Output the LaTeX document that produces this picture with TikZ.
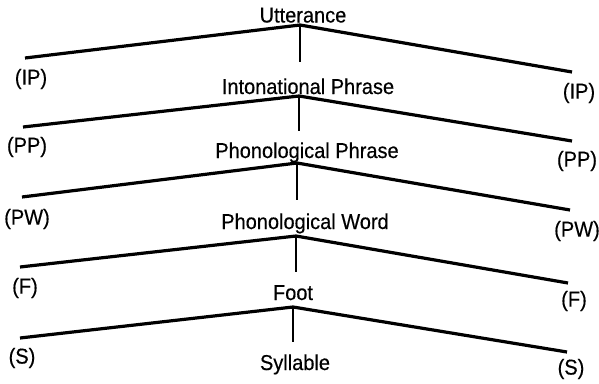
\documentclass[tikz,border=0pt]{standalone}
\usepackage{fontspec}
\setmainfont[FakeStretch=0.93, FakeBold=0.4]{Liberation Sans}

\begin{document}
\begin{tikzpicture}[x=1pt, y=-1pt,
    level_label/.style={font=\fontsize{21.5}{25}\selectfont, inner sep=0pt, anchor=base},
    side_label/.style={font=\fontsize{21.5}{25}\selectfont, inner sep=0pt},
    branch/.style={line width=3.2pt, line join=round},
    stem/.style={line width=2.8pt}
]
    \useasboundingbox (0,0) rectangle (599,383);

    % Utterance level
    \node[level_label] (utt) at (303,22.5) {Utterance};
    \coordinate (utt_top) at (300,25);
    \coordinate (utt_l) at (25,58);
    \coordinate (utt_r) at (572,72);
    \coordinate (utt_stem) at (300,62);
    \draw[branch] (utt_l) -- (utt_top) -- (utt_r);
    \draw[stem] (utt_top) -- (utt_stem);
    \node[side_label] (ip_l) at (31,79) {(IP)};
    \node[side_label] (ip_r) at (579,93) {(IP)};

    % Intonational Phrase level
    \node[level_label] (ip) at (308,94) {Intonational Phrase};
    \coordinate (ip_top) at (299,96);
    \coordinate (ip_le) at (23,127);
    \coordinate (ip_re) at (572,141);
    \coordinate (ip_stem) at (299,131);
    \draw[branch] (ip_le) -- (ip_top) -- (ip_re);
    \draw[stem] (ip_top) -- (ip_stem);
    \node[side_label] (pp_l) at (27,147) {(PP)};
    \node[side_label] (pp_r) at (577,161) {(PP)};

    % Phonological Phrase level
    \node[level_label] (pp) at (307,158) {Phonological Phrase};
    \coordinate (pp_top) at (297,163);
    \coordinate (pp_le) at (22,197);
    \coordinate (pp_re) at (570,210);
    \coordinate (pp_stem) at (297,200);
    \draw[branch] (pp_le) -- (pp_top) -- (pp_re);
    \draw[stem] (pp_top) -- (pp_stem);
    \node[side_label] (pw_l) at (27,219) {(PW)};
    \node[side_label] (pw_r) at (577,231) {(PW)};

    % Phonological Word level
    \node[level_label] (pw) at (305,229) {Phonological Word};
    \coordinate (pw_top) at (296,236);
    \coordinate (pw_le) at (20,267);
    \coordinate (pw_re) at (568,283);
    \coordinate (pw_stem) at (296,272);
    \draw[branch] (pw_le) -- (pw_top) -- (pw_re);
    \draw[stem] (pw_top) -- (pw_stem);
    \node[side_label] (f_l) at (25,288) {(F)};
    \node[side_label] (f_r) at (574,301) {(F)};

    % Foot level
    \node[level_label] (foot) at (293,300) {Foot};
    \coordinate (foot_top) at (293,307);
    \coordinate (foot_le) at (20,338);
    \coordinate (foot_re) at (567,352);
    \coordinate (foot_stem) at (293,342);
    \draw[branch] (foot_le) -- (foot_top) -- (foot_re);
    \draw[stem] (foot_top) -- (foot_stem);
    \node[side_label] (s_l) at (22,358) {(S)};
    \node[side_label] (s_r) at (571,369) {(S)};

    % Syllable
    \node[level_label] (syl) at (295,370) {Syllable};

\end{tikzpicture}
\end{document}
